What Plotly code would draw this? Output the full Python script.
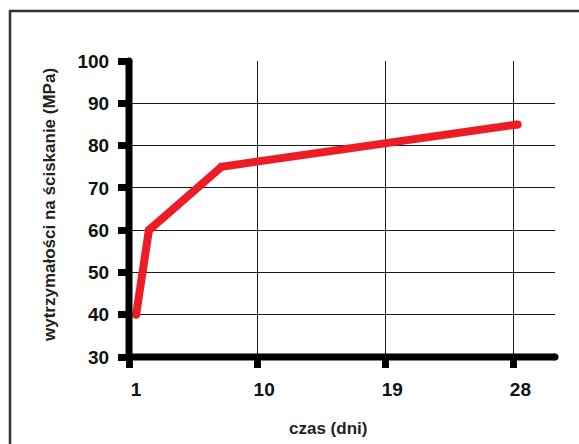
import plotly.graph_objects as go

# data
days = [1.5, 2.4, 7.5, 28.3]
strength = [40, 60, 75, 85]
x_ticks = [1, 10, 19, 28]
y_ticks = [30, 40, 50, 60, 70, 80, 90, 100]
x_title = "czas (dni)"
y_title = "wytrzymałości na ściskanie (MPa)"

W, H = 579, 444
L, R, T, B = 129, 24, 61, 87
PW, PH = W - L - R, H - T - B
X_RANGE = [1, 30.92]
Y_RANGE = [30, 100]

def px_x(p):
    return (p - L) / PW

def px_y(p):
    return (H - B - p) / PH

FONT = "Liberation Sans, Arial, sans-serif"

fig = go.Figure()
fig.add_trace(go.Scatter(
    x=days, y=strength, mode="lines+markers",
    line=dict(color="#ee1c24", width=8),
    marker=dict(color="#ee1c24", size=8, line=dict(width=0)),
    hoverinfo="skip", showlegend=False, cliponaxis=False,
))

# axis lines (drawn centred on the plot edges)
fig.add_shape(type="line", xref="paper", yref="paper", x0=0, x1=0,
              y0=0, y1=1, line=dict(color="black", width=7), layer="above")
fig.add_shape(type="line", xref="paper", yref="paper", x0=0, x1=1,
              y0=0, y1=0, line=dict(color="black", width=7), layer="above")
# round caps at the axis ends
fig.add_trace(go.Scatter(
    x=[X_RANGE[0], X_RANGE[1], X_RANGE[0]], y=[Y_RANGE[1], Y_RANGE[0], Y_RANGE[0]],
    mode="markers",
    marker=dict(color="black", size=7, line=dict(width=0)),
    hoverinfo="skip", showlegend=False, cliponaxis=False,
))

# frame
fig.add_shape(type="rect", xref="paper", yref="paper",
              x0=px_x(10), x1=px_x(600), y0=px_y(11), y1=px_y(470),
              line=dict(color="#333333", width=2.5), layer="below")

fig.update_layout(
    width=W, height=H,
    margin=dict(l=L, r=R, t=T, b=B, pad=0),
    paper_bgcolor="white", plot_bgcolor="white",
    font=dict(family=FONT, color="#111111"),
    xaxis=dict(
        range=X_RANGE, tickvals=x_ticks, ticktext=[str(v) for v in x_ticks],
        showgrid=True, gridcolor="#1a1a1a", gridwidth=1,
        zeroline=False, showline=False,
        ticks="outside", ticklen=10, tickwidth=7, tickcolor="black",
        tickfont=dict(family=FONT, size=19, color="#111111", weight="bold"),
        ticklabelshift=7, ticklabelstandoff=5,
    ),
    yaxis=dict(
        range=Y_RANGE, tickvals=y_ticks, ticktext=[str(v) for v in y_ticks],
        showgrid=True, gridcolor="#1a1a1a", gridwidth=1,
        zeroline=False, showline=False,
        ticks="outside", ticklen=10, tickwidth=7, tickcolor="black",
        tickfont=dict(family=FONT, size=19, color="#111111", weight="bold"),
        ticklabelstandoff=5,
    ),
    annotations=[
        dict(text=x_title, xref="paper", yref="paper", x=px_x(328), y=px_y(428),
             xanchor="center", yanchor="middle", showarrow=False,
             font=dict(family=FONT, size=17, color="#222222", weight="bold")),
        dict(text=y_title, xref="paper", yref="paper", x=px_x(49), y=px_y(205),
             xanchor="center", yanchor="middle", showarrow=False, textangle=-90,
             font=dict(family=FONT, size=17, color="#222222", weight="bold")),
    ],
)

fig.write_html("out.html", config={"displayModeBar": False},
               post_script="document.body.style.margin='0';document.body.style.overflow='hidden';")
